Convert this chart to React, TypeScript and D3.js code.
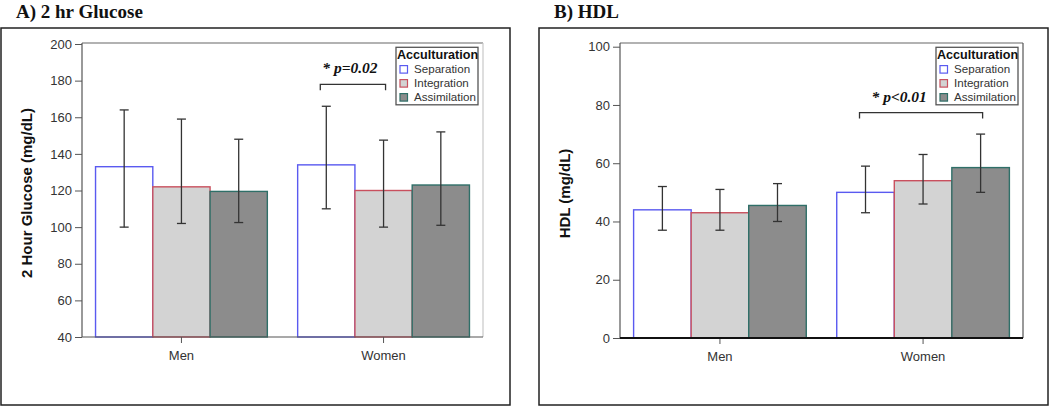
import React, { useRef, useEffect } from 'react';
import * as d3 from 'd3';

// categories and series
const categories = ['Men', 'Women'];
const series = ['Separation', 'Integration', 'Assimilation'];

// A) 2 hr glucose (mg/dL): means and error bar ends, per category
const glucoseMen = [133, 122, 119.5];
const glucoseMenLow = [100, 102, 102.5];
const glucoseMenHigh = [164, 159, 148];
const glucoseWomen = [134, 120, 123];
const glucoseWomenLow = [110, 100, 101];
const glucoseWomenHigh = [166, 147.5, 152];
const glucoseTicks = [40, 60, 80, 100, 120, 140, 160, 180, 200];

// B) HDL (mg/dL)
const hdlMen = [44, 43, 45.5];
const hdlMenLow = [37, 37, 40];
const hdlMenHigh = [52, 51, 53];
const hdlWomen = [50, 54, 58.5];
const hdlWomenLow = [43, 46, 50];
const hdlWomenHigh = [59, 63, 70];
const hdlTicks = [0, 20, 40, 60, 80, 100];

const fills = ['#ffffff', '#d3d3d3', '#8c8c8c'];
const strokes = ['#5a5af0', '#c9505e', '#2f6f68'];

type Panel = {
  title: string;
  yTitle: string;
  box: { x: number; y: number; w: number; h: number };
  left: number;
  right: number;
  top: number;
  bottom: number;
  yTop: number;
  domain: [number, number];
  ticks: number[];
  means: number[][];
  lows: number[][];
  highs: number[][];
  note: string;
  bracketTo: number;
  bracketY: number;
  noteDx: number;
  rightBorder: string;
  bottomStroke: string;
  bottomWidth: number;
};

const panels: Panel[] = [
  {
    title: 'A) 2 hr Glucose',
    yTitle: '2 Hour Glucose (mg/dL)',
    box: { x: 1, y: 28, w: 509, h: 377 },
    left: 82, right: 483, top: 43, bottom: 337, yTop: 44,
    domain: [40, 200],
    ticks: glucoseTicks,
    means: [glucoseMen, glucoseWomen],
    lows: [glucoseMenLow, glucoseWomenLow],
    highs: [glucoseMenHigh, glucoseWomenHigh],
    note: '* p=0.02',
    bracketTo: 1,
    bracketY: 178,
    noteDx: 2,
    rightBorder: '#c8c8c8',
    bottomStroke: '#555',
    bottomWidth: 1.2,
  },
  {
    title: 'B) HDL',
    yTitle: 'HDL (mg/dL)',
    box: { x: 539, y: 28, w: 509, h: 377 },
    left: 620, right: 1023, top: 43, bottom: 338, yTop: 46.7,
    domain: [0, 100],
    ticks: hdlTicks,
    means: [hdlMen, hdlWomen],
    lows: [hdlMenLow, hdlWomenLow],
    highs: [hdlMenHigh, hdlWomenHigh],
    note: '* p<0.01',
    bracketTo: 2,
    bracketY: 77.4,
    noteDx: 12,
    rightBorder: '#555',
    bottomStroke: '#111',
    bottomWidth: 2,
  },
];

const sans = 'Arial, "Liberation Sans", Helvetica, sans-serif';
const serif = '"Liberation Serif", "Times New Roman", serif';

const App = () => {
  const ref = useRef<SVGSVGElement>(null);

  useEffect(() => {
    if (!ref.current) return;
    const svg = d3.select(ref.current);
    svg.selectAll('*').remove();

    panels.forEach((p) => {
      const g = svg.append('g');

      // panel title
      g.append('text')
        .attr('x', p.box.x + 15)
        .attr('y', 18)
        .attr('font-family', serif)
        .attr('font-weight', 'bold')
        .attr('font-size', 19)
        .attr('fill', '#111')
        .text(p.title);

      // outer box
      g.append('rect')
        .attr('x', p.box.x)
        .attr('y', p.box.y)
        .attr('width', p.box.w)
        .attr('height', p.box.h)
        .attr('fill', 'white')
        .attr('stroke', '#222')
        .attr('stroke-width', 1.5);

      const x0 = d3.scaleBand<string>()
        .domain(categories)
        .range([p.left, p.right])
        .paddingInner(0.15)
        .paddingOuter(0.067);
      const x1 = d3.scaleBand<string>()
        .domain(series)
        .range([0, x0.bandwidth()]);
      const y = d3.scaleLinear()
        .domain(p.domain)
        .range([p.bottom, p.yTop]);

      // frame top / right
      g.append('line')
        .attr('x1', p.left).attr('x2', p.right)
        .attr('y1', p.top).attr('y2', p.top)
        .attr('stroke', '#666').attr('stroke-width', 1.2);
      g.append('line')
        .attr('x1', p.right).attr('x2', p.right)
        .attr('y1', p.top).attr('y2', p.bottom)
        .attr('stroke', p.rightBorder).attr('stroke-width', 1.2);

      // bars
      categories.forEach((c, ci) => {
        series.forEach((s, si) => {
          const v = p.means[ci][si];
          g.append('rect')
            .attr('x', (x0(c) as number) + (x1(s) as number))
            .attr('y', y(v))
            .attr('width', x1.bandwidth())
            .attr('height', p.bottom - y(v))
            .attr('fill', fills[si])
            .attr('stroke', strokes[si])
            .attr('stroke-width', 1.4);
        });
      });

      // error bars
      categories.forEach((c, ci) => {
        series.forEach((s, si) => {
          const cx = (x0(c) as number) + (x1(s) as number) + x1.bandwidth() / 2;
          const lo = y(p.lows[ci][si]);
          const hi = y(p.highs[ci][si]);
          const eg = g.append('g').attr('stroke', '#333').attr('stroke-width', 1.3);
          eg.append('line').attr('x1', cx).attr('x2', cx).attr('y1', lo).attr('y2', hi);
          eg.append('line').attr('x1', cx - 4.5).attr('x2', cx + 4.5).attr('y1', lo).attr('y2', lo);
          eg.append('line').attr('x1', cx - 4.5).attr('x2', cx + 4.5).attr('y1', hi).attr('y2', hi);
        });
      });

      // y axis
      const ya = g.append('g')
        .attr('transform', `translate(${p.left},0)`)
        .call(d3.axisLeft(y).tickValues(p.ticks).tickSize(7).tickPadding(3).tickSizeOuter(0));
      ya.select('.domain').remove();
      ya.append('line')
        .attr('x1', 0).attr('x2', 0)
        .attr('y1', p.top).attr('y2', p.bottom)
        .attr('stroke', '#555').attr('stroke-width', 1.2);
      ya.selectAll('.tick line').attr('stroke', '#555');
      ya.selectAll('.tick text')
        .attr('font-family', sans)
        .attr('font-size', 13)
        .attr('fill', '#333');

      // x axis
      const xa = g.append('g')
        .attr('transform', `translate(0,${p.bottom})`)
        .call(d3.axisBottom(x0).tickSize(6).tickPadding(8).tickSizeOuter(0));
      xa.select('.domain').remove();
      xa.append('line')
        .attr('x1', p.left).attr('x2', p.right)
        .attr('y1', 0).attr('y2', 0)
        .attr('stroke', p.bottomStroke).attr('stroke-width', p.bottomWidth);
      xa.selectAll('.tick line').attr('stroke', '#555');
      xa.selectAll('.tick text')
        .attr('font-family', sans)
        .attr('font-size', 13)
        .attr('fill', '#333');

      // y axis title
      g.append('text')
        .attr('transform', `translate(${p.box.x + 31},${(p.top + p.bottom) / 2 + 3}) rotate(-90)`)
        .attr('text-anchor', 'middle')
        .attr('font-family', sans)
        .attr('font-weight', 'bold')
        .attr('font-size', 15)
        .attr('fill', '#111')
        .text(p.yTitle);

      // significance bracket
      const wx = x0('Women') as number;
      const bx1 = wx + (x1(series[0]) as number) + x1.bandwidth() / 2 - 6;
      const bx2 = wx + (x1(series[p.bracketTo]) as number) + x1.bandwidth() / 2 + 2;
      const by = y(p.bracketY);
      g.append('path')
        .attr('d', `M${bx1},${by + 6}V${by}H${bx2}V${by + 6}`)
        .attr('fill', 'none')
        .attr('stroke', '#333')
        .attr('stroke-width', 1.3);
      g.append('text')
        .attr('x', bx1 + p.noteDx)
        .attr('y', by - 11)
        .attr('font-family', serif)
        .attr('font-weight', 'bold')
        .attr('font-style', 'italic')
        .attr('font-size', 15.5)
        .attr('fill', '#111')
        .text(p.note);

      // legend
      const lw = 82;
      const lx = p.right - 5 - lw;
      const ly = 47.3;
      const lg = g.append('g').attr('transform', `translate(${lx},${ly})`);
      lg.append('rect')
        .attr('width', lw).attr('height', 57.5)
        .attr('fill', 'white')
        .attr('stroke', '#555').attr('stroke-width', 1.3);
      lg.append('text')
        .attr('x', 1).attr('y', 11.5)
        .attr('font-family', sans)
        .attr('font-weight', 'bold')
        .attr('font-size', 12.6)
        .attr('fill', '#111')
        .text('Acculturation');
      series.forEach((s, si) => {
        const cy = 22 + si * 14;
        lg.append('rect')
          .attr('x', 4).attr('y', cy - 3.7)
          .attr('width', 7.5).attr('height', 7.5)
          .attr('fill', fills[si])
          .attr('stroke', strokes[si])
          .attr('stroke-width', 1.2);
        lg.append('text')
          .attr('x', 18).attr('y', cy + 4)
          .attr('font-family', sans)
          .attr('font-size', 11.6)
          .attr('fill', '#333')
          .text(s);
      });
    });
  }, []);

  return (
    <svg
      ref={ref}
      width={1050}
      height={407}
      style={{ position: 'absolute', left: 0, top: 0, background: 'white', display: 'block' }}
    />
  );
};

export default App;
